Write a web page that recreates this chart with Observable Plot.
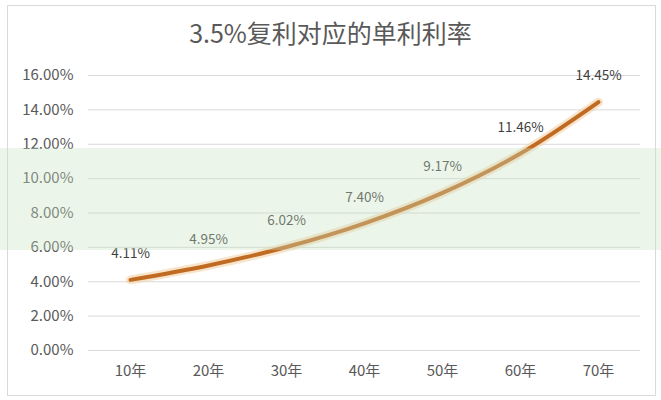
<!DOCTYPE html>
<html><head><meta charset="utf-8">
<script src="https://cdn.jsdelivr.net/npm/d3@7"></script>
<script src="https://cdn.jsdelivr.net/npm/@observablehq/plot@0.6"></script>
<style>
body{margin:0;background:#fff;}
#wrap{position:relative;width:661px;height:400px;overflow:hidden;font-family:"Noto Sans CJK SC","Noto Sans",sans-serif;}
#frame{position:absolute;left:7px;top:5px;width:647px;height:389px;border:1px solid #d9d9d9;}
#title{position:absolute;left:0;top:14px;width:661px;text-align:center;font-size:25px;line-height:36px;color:#595959;}
#chart{position:absolute;left:0;top:60px;}
#band{position:absolute;left:0;top:148px;width:661px;height:102px;background:rgba(200,225,195,0.35);pointer-events:none;}
</style></head>
<body>
<div id="wrap">
<div id="frame"></div>
<div id="title">3.5%复利对应的单利利率</div>
<div id="chart"></div>
<div id="band"></div>
</div>
<script>
const years = ["10年","20年","30年","40年","50年","60年","70年"];
const rates = [4.11, 4.95, 6.02, 7.40, 9.17, 11.46, 14.45];
const yTicks = [0,2,4,6,8,10,12,14,16];
const data = years.map((y,i)=>({year:y, rate:rates[i]}));
const fmt = v => v.toFixed(2) + "%";
const plot = Plot.plot({
  width: 661, height: 340,
  marginLeft: 88, marginRight: 21, marginTop: 15, marginBottom: 50,
  style: {fontFamily: '"Noto Sans CJK SC","Noto Sans",sans-serif', fontSize: "15px", color: "#595959", background: "transparent"},
  x: {type: "point", domain: years, padding: 0.5, label: null},
  y: {domain: [0,16], ticks: yTicks, label: null},
  marks: [
    Plot.gridY(yTicks, {stroke: "#d9d9d9", strokeOpacity: 1}),
    Plot.axisY({ticks: yTicks, tickFormat: fmt, tickSize: 0, tickPadding: 15, fontSize: 15, fill: "#595959", label: null}),
    Plot.axisX({tickSize: 0, tickPadding: 15, fontSize: 15, fill: "#595959", label: null}),
    Plot.line(data, {x: "year", y: "rate", curve: "catmull-rom", stroke: "#f3d2a8", strokeWidth: 9, strokeOpacity: 0.6}),
    Plot.line(data, {x: "year", y: "rate", curve: "catmull-rom", stroke: "#c06a22", strokeWidth: 4}),
    Plot.text(data, {x: "year", y: "rate", text: d => fmt(d.rate), dy: -26, fontSize: 13.5, fill: "#404040"})
  ]
});
document.getElementById("chart").appendChild(plot);
</script>
</body></html>
